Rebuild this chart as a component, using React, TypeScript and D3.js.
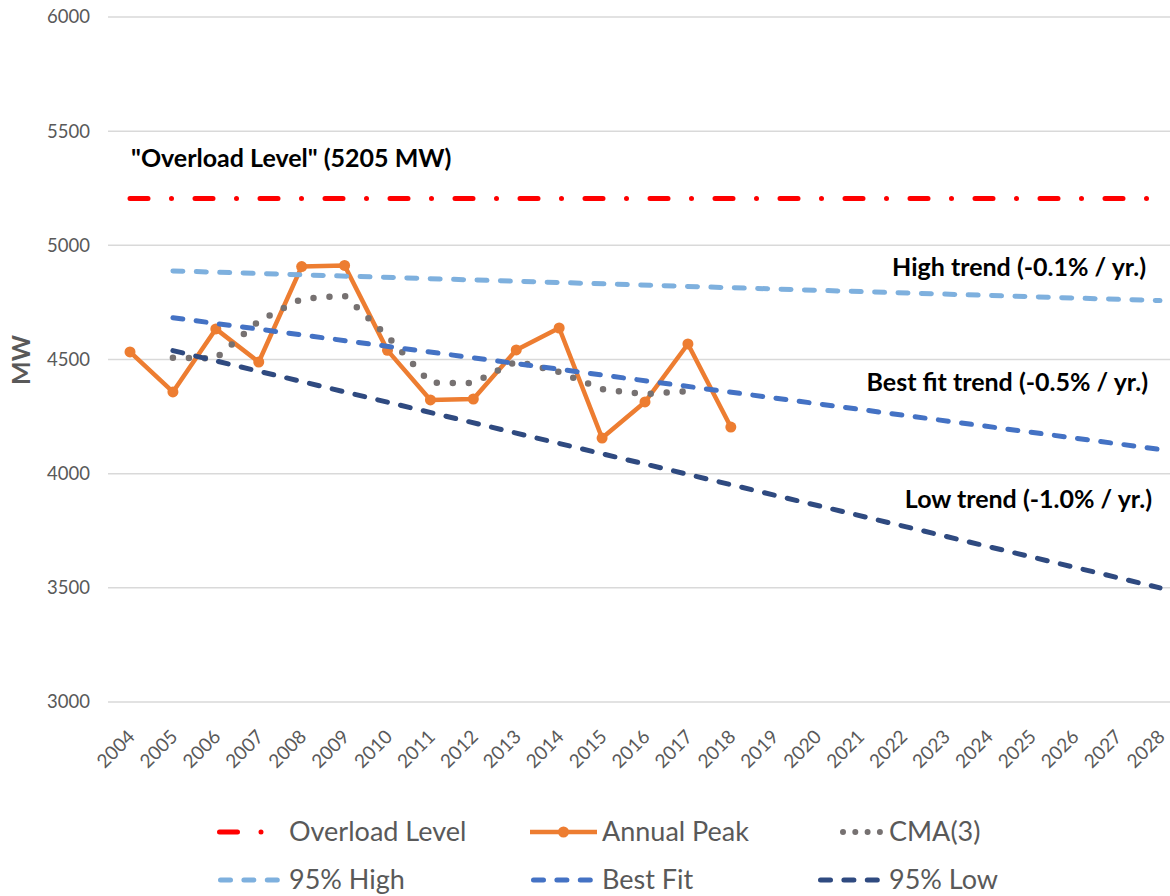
import React from 'react';
import * as d3 from 'd3';

const years = ['2004','2005','2006','2007','2008','2009','2010','2011','2012','2013','2014','2015','2016','2017','2018','2019','2020','2021','2022','2023','2024','2025','2026','2027','2028'];
const yTicks = [3000, 3500, 4000, 4500, 5000, 5500, 6000];

const peakYears = ['2004','2005','2006','2007','2008','2009','2010','2011','2012','2013','2014','2015','2016','2017','2018'];
const annualPeak = [4533, 4358, 4634, 4489, 4907, 4912, 4540, 4323, 4327, 4542, 4638, 4156, 4314, 4568, 4204];

const cmaYears = ['2005','2006','2007','2008','2009','2010','2011','2012','2013','2014','2015','2016','2017'];
const cma3 = [4508, 4505, 4668, 4766, 4780, 4602, 4398, 4397, 4492, 4445, 4370, 4348, 4362];

const overloadYears = ['2004', '2028'];
const overloadLevel = [5205, 5205];

const trendYears = ['2005', '2028'];
const high95 = [4888, 4758];
const bestFit = [4683, 4106];
const low95 = [4539, 3500];

const W = 1170, H = 896;
const FONT = "Lato, 'Noto Sans', sans-serif";
const GREY = '#595959';

export default function App() {
  const x = d3.scalePoint<string>().domain(years).range([130, 1160]);
  const y = d3.scaleLinear().domain([3000, 6000]).range([702, 17]);
  const line = d3.line<[string, number]>().x(d => x(d[0]) as number).y(d => y(d[1]));
  const zip = (a: string[], b: number[]) => a.map((k, i) => [k, b[i]] as [string, number]);

  const legendRows = [832, 880];
  const legendCols = [289, 602, 889];

  return (
    <svg width={W} height={H} style={{ position: 'absolute', left: 0, top: 0, background: '#fff' }} fontFamily={FONT}>
      <rect x={0} y={0} width={W} height={H} fill="#fff" />
      {/* gridlines */}
      {yTicks.map(t => (
        <line key={t} x1={108} x2={1182} y1={y(t)} y2={y(t)} stroke="#d9d9d9" strokeWidth={1.5} />
      ))}
      {yTicks.map(t => (
        <text key={'l' + t} x={90} y={y(t)} dy="0.35em" textAnchor="end" fontSize={18.5} fill={GREY}>{t}</text>
      ))}
      {years.map(yr => (
        <text key={yr} transform={`translate(${(x(yr) as number) + 6},${738}) rotate(-45)`} textAnchor="end" fontSize={19} fill={GREY}>{yr}</text>
      ))}
      <text transform="translate(30,360) rotate(-90)" textAnchor="middle" fontSize={25} fontWeight="bold" fill={GREY}>MW</text>

      {/* series */}
      <path d={line(zip(overloadYears, overloadLevel)) as string} fill="none" stroke="#ff0000" strokeWidth={5} strokeLinecap="round" strokeDasharray="18 23.5 0 23.5" />
      <path d={line(zip(peakYears, annualPeak)) as string} fill="none" stroke="#ed7d31" strokeWidth={4.5} strokeLinejoin="round" />
      {peakYears.map((yr, i) => (
        <circle key={yr} cx={x(yr)} cy={y(annualPeak[i])} r={5.5} fill="#ed7d31" />
      ))}
      <path d={line(zip(cmaYears, cma3)) as string} fill="none" stroke="#767171" strokeWidth={6.5} strokeLinecap="round" strokeDasharray="0 16" />
      <path d={line(zip(trendYears, high95)) as string} fill="none" stroke="#7eb0de" strokeWidth={5} strokeLinecap="round" strokeDasharray="10 13.4" />
      <path d={line(zip(trendYears, bestFit)) as string} fill="none" stroke="#4472c4" strokeWidth={5} strokeLinecap="round" strokeDasharray="10 13.4" />
      <path d={line(zip(trendYears, low95)) as string} fill="none" stroke="#2f4a80" strokeWidth={5} strokeLinecap="round" strokeDasharray="10 13.4" />

      {/* annotations */}
      <text x={131} y={167} fontSize={25} fontWeight="bold" fill="#000">"Overload Level" (5205 MW)</text>
      <text x={1146} y={276} textAnchor="end" fontSize={25} fontWeight="bold" fill="#000">High trend (-0.1% / yr.)</text>
      <text x={1148} y={391} textAnchor="end" fontSize={25} fontWeight="bold" fill="#000">Best fit trend (-0.5% / yr.)</text>
      <text x={1152} y={508} textAnchor="end" fontSize={25} fontWeight="bold" fill="#000">Low trend (-1.0% / yr.)</text>

      {/* legend */}
      <g fontSize={27} fill={GREY}>
        <line x1={legendCols[0] - 69.5} x2={legendCols[0] - 8} y1={legendRows[0]} y2={legendRows[0]} stroke="#ff0000" strokeWidth={5} strokeLinecap="round" strokeDasharray="18 23.5 0 23.5" />
        <text x={legendCols[0]} y={legendRows[0]} dy="0.35em">Overload Level</text>

        <line x1={legendCols[1] - 72} x2={legendCols[1] - 5} y1={legendRows[0]} y2={legendRows[0]} stroke="#ed7d31" strokeWidth={4.5} />
        <circle cx={legendCols[1] - 38.5} cy={legendRows[0]} r={5.5} fill="#ed7d31" />
        <text x={legendCols[1]} y={legendRows[0]} dy="0.35em">Annual Peak</text>

        <line x1={legendCols[2] - 46} x2={legendCols[2] - 8} y1={legendRows[0]} y2={legendRows[0]} stroke="#767171" strokeWidth={6} strokeLinecap="round" strokeDasharray="0 12.3" />
        <text x={legendCols[2]} y={legendRows[0]} dy="0.35em">CMA(3)</text>

        <line x1={legendCols[0] - 68.5} x2={legendCols[0] - 8} y1={legendRows[1]} y2={legendRows[1]} stroke="#7eb0de" strokeWidth={5} strokeLinecap="round" strokeDasharray="10 13.4" />
        <text x={legendCols[0]} y={legendRows[1]} dy="0.35em">95% High</text>

        <line x1={legendCols[1] - 68.5} x2={legendCols[1] - 8} y1={legendRows[1]} y2={legendRows[1]} stroke="#4472c4" strokeWidth={5} strokeLinecap="round" strokeDasharray="10 13.4" />
        <text x={legendCols[1]} y={legendRows[1]} dy="0.35em">Best Fit</text>

        <line x1={legendCols[2] - 68.5} x2={legendCols[2] - 8} y1={legendRows[1]} y2={legendRows[1]} stroke="#2f4a80" strokeWidth={5} strokeLinecap="round" strokeDasharray="10 13.4" />
        <text x={legendCols[2]} y={legendRows[1]} dy="0.35em">95% Low</text>
      </g>
    </svg>
  );
}
